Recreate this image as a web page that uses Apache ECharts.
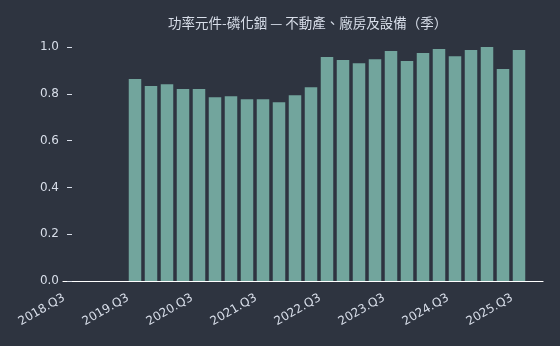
<!DOCTYPE html>
<html>
<head>
<meta charset="utf-8">
<script src="https://cdn.jsdelivr.net/npm/echarts@6/dist/echarts.min.js"></script>
<style>
    html, body { margin: 0; padding: 0; background: #2e3440; }
    #chart { width: 560px; height: 346px; }
</style>
</head>
<body>
<div id="chart"></div>
<script>
// 季度分类（前四季無資料，最後補一格留白）
const categories = [
    '2018.Q3', '2018.Q4', '2019.Q1', '2019.Q2',
    '2019.Q3', '2019.Q4', '2020.Q1', '2020.Q2',
    '2020.Q3', '2020.Q4', '2021.Q1', '2021.Q2',
    '2021.Q3', '2021.Q4', '2022.Q1', '2022.Q2',
    '2022.Q3', '2022.Q4', '2023.Q1', '2023.Q2',
    '2023.Q3', '2023.Q4', '2024.Q1', '2024.Q2',
    '2024.Q3', '2024.Q4', '2025.Q1', '2025.Q2',
    '2025.Q3', '2025.Q4'
];

// 不動產、廠房及設備（季）
const values = [
    null, null, null, null,
    0.863, 0.833, 0.841, 0.820,
    0.820, 0.785, 0.790, 0.777,
    0.777, 0.764, 0.794, 0.828,
    0.957, 0.944, 0.931, 0.948,
    0.983, 0.940, 0.974, 0.991,
    0.961, 0.987, 1.000, 0.906,
    0.987, null
];

const yTicks = [0, 0.2, 0.4, 0.6, 0.8, 1.0];

const titleText = '功率元件-磷化銦 — 不動產、廠房及設備（季）';

document.addEventListener('DOMContentLoaded', function() {
    const chartDom = document.getElementById('chart');
    const myChart = echarts.init(chartDom);

    const option = {
        backgroundColor: '#2e3440',
        animation: false,
        title: {
            text: titleText,
            left: 168,
            top: 16,
            padding: 0,
            textStyle: {
                color: '#d8dee9',
                fontSize: 13.5,
                fontWeight: 'normal',
                fontFamily: 'Noto Sans CJK TC'
            }
        },
        grid: {
            left: 63,
            right: 17,
            top: 47,
            bottom: 65
        },
        xAxis: {
            type: 'category',
            data: categories,
            boundaryGap: true,
            axisLine: {
                lineStyle: { color: '#ffffff', width: 1.2 }
            },
            axisTick: {
                interval: 3,
                alignWithLabel: true,
                length: 4,
                lineStyle: { color: '#ffffff' }
            },
            axisLabel: {
                interval: 3,
                rotate: 30,
                margin: 12,
                padding: [0, 8, 0, 0],
                color: '#d8dee9',
                fontSize: 12,
                fontFamily: 'DejaVu Sans'
            },
            splitLine: { show: false }
        },
        yAxis: {
            type: 'value',
            min: yTicks[0],
            max: yTicks[yTicks.length - 1],
            interval: 0.2,
            offset: -4,
            axisLine: { show: false },
            axisTick: {
                show: true,
                inside: true,
                length: 5,
                lineStyle: { color: '#d8dee9' }
            },
            axisLabel: {
                margin: 8,
                color: '#d8dee9',
                fontSize: 12,
                fontFamily: 'DejaVu Sans',
                formatter: function(v) { return v.toFixed(1); }
            },
            splitLine: { show: false }
        },
        series: [
            {
                name: '不動產、廠房及設備',
                type: 'bar',
                data: values,
                barWidth: 12.5,
                itemStyle: {
                    color: '#72a59d'
                }
            }
        ]
    };

    myChart.setOption(option);

    window.addEventListener('resize', function() {
        myChart.resize();
    });
});
</script>
</body>
</html>
